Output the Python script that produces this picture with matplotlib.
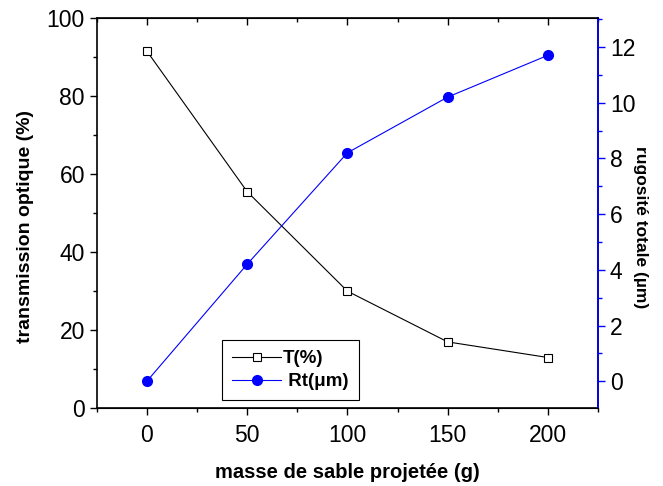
import matplotlib
matplotlib.use("Agg")
import matplotlib.pyplot as plt
from matplotlib.ticker import MultipleLocator

plt.rcParams['font.family'] = ['Liberation Sans', 'DejaVu Sans']

# data
masse = [0, 50, 100, 150, 200]
transmission = [91.5, 55.5, 30.0, 17.0, 13.0]
rugosite = [0.0, 4.2, 8.2, 10.2, 11.7]

fig = plt.figure(figsize=(6.63, 4.86), dpi=100)
ax = fig.add_axes([0.146, 0.160, 0.756, 0.803])
ax2 = ax.twinx()

l1, = ax.plot(masse, transmission, color='black', lw=0.8, marker='s', ms=6,
              mfc='white', mec='black', mew=0.8, label='T(%)')
l2, = ax2.plot(masse, rugosite, color='blue', lw=0.8, marker='o', ms=7,
               mfc='blue', mec='blue', label=' Rt(μm)')

ax.set_xlim(-25, 225)
ax.set_ylim(0, 100)
ax2.set_ylim(-0.97, 13.04)

ax.xaxis.set_major_locator(MultipleLocator(50))
ax.xaxis.set_minor_locator(MultipleLocator(25))
ax.yaxis.set_major_locator(MultipleLocator(20))
ax.yaxis.set_minor_locator(MultipleLocator(10))
ax2.yaxis.set_major_locator(MultipleLocator(2))
ax2.yaxis.set_minor_locator(MultipleLocator(1))

ax.tick_params(axis='both', which='major', labelsize=16.5, length=5, width=1, direction='out')
ax.tick_params(axis='both', which='minor', length=3, width=1, direction='out')
ax.tick_params(axis='x', which='major', pad=6)
ax.tick_params(axis='x', top=True, which='both')
ax2.tick_params(axis='y', which='major', labelsize=16.5, length=5, width=1,
                colors='blue', labelcolor='black', direction='out')
ax2.tick_params(axis='y', which='minor', length=3, width=1, colors='blue', direction='out')

# top ticks point inward
for t in ax.xaxis.get_major_ticks() + ax.xaxis.get_minor_ticks():
    t.tick2line.set_marker(matplotlib.lines.TICKDOWN)

for s in ax.spines.values():
    s.set_linewidth(1.2)
ax2.spines['right'].set_color('blue')
ax2.spines['right'].set_linewidth(1.2)
ax2.spines['left'].set_visible(False)

ax.set_xlabel('masse de sable projetée (g)', fontsize=14.5, fontweight='bold', labelpad=12)
ax.set_ylabel('transmission optique (%)', fontsize=14, fontweight='bold', labelpad=9)
ax2.set_ylabel('rugosité totale (µm)', fontsize=12.5, fontweight='bold',
               rotation=270, labelpad=9)
ax.yaxis.label.set_y(0.465)
ax2.yaxis.label.set_y(0.465)

leg = ax.legend(handles=[l1, l2], loc='lower left', bbox_to_anchor=(0.25, 0.02),
                fancybox=False, edgecolor='black', framealpha=1,
                prop={'weight': 'bold', 'size': 13.5}, handlelength=2.6,
                borderpad=0.55, labelspacing=0.3, handletextpad=0.1,
                borderaxespad=0)
leg.get_frame().set_linewidth(0.8)

fig.savefig('out.png', dpi=100)
